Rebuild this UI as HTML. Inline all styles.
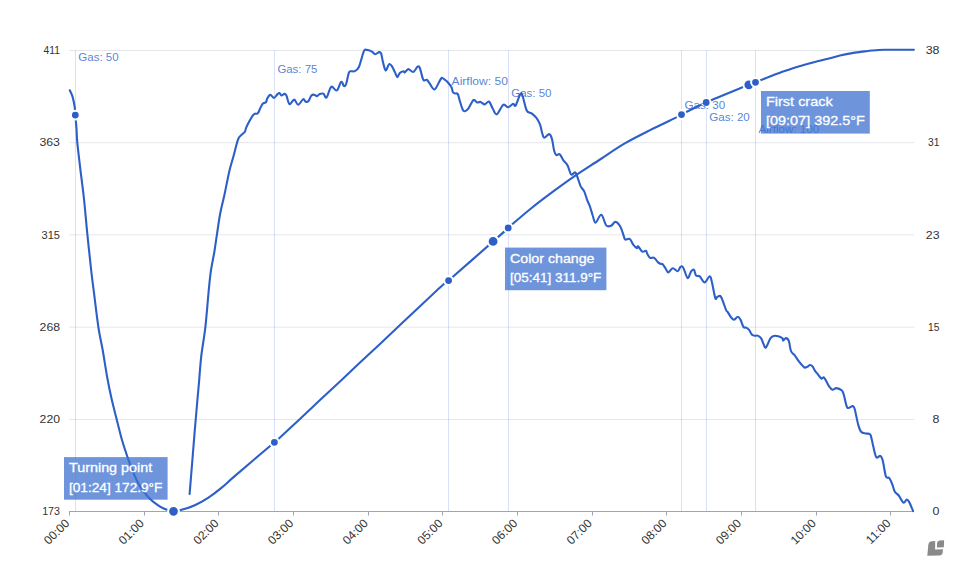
<!DOCTYPE html><html><head><meta charset="utf-8"><style>html,body{margin:0;padding:0;background:#fff;width:980px;height:564px;overflow:hidden}svg{display:block;font-family:"Liberation Sans",sans-serif}</style></head><body>
<svg width="980" height="564" viewBox="0 0 980 564">
<line x1="69" y1="50.5" x2="914" y2="50.5" stroke="#e3e8eb" stroke-width="1"/>
<line x1="69" y1="142.7" x2="914" y2="142.7" stroke="#e3e8eb" stroke-width="1"/>
<line x1="69" y1="234.8" x2="914" y2="234.8" stroke="#e3e8eb" stroke-width="1"/>
<line x1="69" y1="327.2" x2="914" y2="327.2" stroke="#e3e8eb" stroke-width="1"/>
<line x1="69" y1="419.5" x2="914" y2="419.5" stroke="#e3e8eb" stroke-width="1"/>
<line x1="69" y1="511.5" x2="914" y2="511.5" stroke="#97a6b8" stroke-width="1"/>
<line x1="69.5" y1="511.5" x2="69.5" y2="515.5" stroke="#97a6b8" stroke-width="1"/>
<line x1="144.5" y1="511.5" x2="144.5" y2="515.5" stroke="#97a6b8" stroke-width="1"/>
<line x1="218.5" y1="511.5" x2="218.5" y2="515.5" stroke="#97a6b8" stroke-width="1"/>
<line x1="293.5" y1="511.5" x2="293.5" y2="515.5" stroke="#97a6b8" stroke-width="1"/>
<line x1="368.5" y1="511.5" x2="368.5" y2="515.5" stroke="#97a6b8" stroke-width="1"/>
<line x1="442.5" y1="511.5" x2="442.5" y2="515.5" stroke="#97a6b8" stroke-width="1"/>
<line x1="517.5" y1="511.5" x2="517.5" y2="515.5" stroke="#97a6b8" stroke-width="1"/>
<line x1="592.5" y1="511.5" x2="592.5" y2="515.5" stroke="#97a6b8" stroke-width="1"/>
<line x1="666.5" y1="511.5" x2="666.5" y2="515.5" stroke="#97a6b8" stroke-width="1"/>
<line x1="741.5" y1="511.5" x2="741.5" y2="515.5" stroke="#97a6b8" stroke-width="1"/>
<line x1="816.5" y1="511.5" x2="816.5" y2="515.5" stroke="#97a6b8" stroke-width="1"/>
<line x1="890.5" y1="511.5" x2="890.5" y2="515.5" stroke="#97a6b8" stroke-width="1"/>
<line x1="75.5" y1="50" x2="75.5" y2="511" stroke="rgba(40,90,210,0.18)" stroke-width="1"/>
<line x1="274.5" y1="50" x2="274.5" y2="511" stroke="rgba(40,90,210,0.18)" stroke-width="1"/>
<line x1="448.5" y1="50" x2="448.5" y2="511" stroke="rgba(40,90,210,0.18)" stroke-width="1"/>
<line x1="508.5" y1="50" x2="508.5" y2="511" stroke="rgba(40,90,210,0.18)" stroke-width="1"/>
<line x1="681.5" y1="50" x2="681.5" y2="511" stroke="rgba(40,90,210,0.18)" stroke-width="1"/>
<line x1="706.5" y1="50" x2="706.5" y2="511" stroke="rgba(40,90,210,0.18)" stroke-width="1"/>
<line x1="755.5" y1="50" x2="755.5" y2="511" stroke="rgba(40,90,210,0.18)" stroke-width="1"/>
<path d="M69.8,90.3 C70.3,91.4 71.8,94.0 72.6,96.9 C73.4,99.8 74.3,104.4 74.8,107.5 C75.2,110.6 75.0,111.8 75.3,115.3 C75.6,118.8 76.2,124.3 76.5,128.8 C76.8,133.4 76.7,136.2 77.3,142.6 C77.9,149.0 79.0,157.5 80.1,167.1 C81.2,176.7 82.9,188.7 84.1,200.0 C85.3,211.3 86.2,223.1 87.4,234.7 C88.6,246.3 89.9,258.7 91.1,269.5 C92.3,280.3 93.6,289.6 94.8,299.3 C96.0,309.0 97.2,319.1 98.5,327.8 C99.8,336.5 101.5,343.1 102.9,351.3 C104.3,359.5 105.7,369.0 107.1,376.8 C108.5,384.6 109.8,391.0 111.4,398.1 C113.0,405.2 114.9,412.4 116.7,419.4 C118.5,426.4 120.2,433.7 122.0,440.0 C123.8,446.3 125.7,451.8 127.6,457.3 C129.5,462.9 131.5,468.4 133.6,473.3 C135.7,478.2 137.6,482.4 140.3,486.6 C143.0,490.8 146.5,495.3 149.6,498.5 C152.7,501.7 156.0,504.0 158.9,505.9 C161.8,507.8 164.5,508.9 166.9,509.8 C169.3,510.7 171.1,511.3 173.5,511.3 C175.9,511.3 177.9,510.8 181.5,509.8 C185.1,508.8 190.4,507.2 194.8,505.2 C199.2,503.2 203.7,500.8 208.1,497.9 C212.5,495.0 216.9,491.6 221.4,487.9 C225.9,484.2 226.2,483.5 235.0,475.9 C243.8,468.3 267.0,448.6 274.5,442.2 C282.0,435.8 275.8,441.3 280.0,437.4 C284.2,433.5 293.3,425.1 300.0,418.9 C306.7,412.7 313.3,406.4 320.0,400.1 C326.7,393.9 333.3,387.6 340.0,381.4 C346.7,375.1 353.3,368.9 360.0,362.6 C366.7,356.4 373.3,350.1 380.0,343.9 C386.7,337.6 393.3,331.4 400.0,325.1 C406.7,318.8 412.8,313.1 420.0,306.3 C427.2,299.5 438.5,288.8 443.3,284.5 C448.1,280.2 440.3,287.7 448.6,280.5 C456.9,273.3 483.2,250.2 493.2,241.4 C503.1,232.7 505.0,230.9 508.3,228.0 C511.6,225.1 509.0,227.1 512.8,223.8 C516.6,220.5 524.7,213.5 531.3,208.2 C537.9,202.9 545.3,197.3 552.6,191.9 C559.9,186.5 567.4,181.0 575.3,175.6 C583.2,170.2 591.8,164.9 600.0,159.5 C608.2,154.1 616.5,148.2 624.8,143.4 C633.1,138.6 641.3,134.6 649.6,130.4 C657.9,126.2 669.1,121.0 674.4,118.4 C679.7,115.8 676.0,117.2 681.3,114.6 C686.6,111.9 694.9,107.5 706.1,102.5 C717.4,97.5 740.6,88.2 748.8,84.8 C757.0,81.4 752.0,83.7 755.5,82.3 C759.0,80.9 765.9,78.0 770.0,76.4 C774.1,74.8 776.3,74.0 780.0,72.7 C783.7,71.4 788.1,69.7 792.2,68.4 C796.3,67.1 800.4,65.8 804.5,64.7 C808.6,63.6 812.6,62.6 816.7,61.6 C820.8,60.6 825.1,59.6 829.0,58.6 C832.9,57.6 836.1,56.5 840.0,55.6 C843.9,54.7 848.1,53.8 852.2,53.1 C856.3,52.4 860.4,51.9 864.5,51.4 C868.6,50.9 873.3,50.5 876.7,50.2 C880.1,49.9 878.7,49.9 884.9,49.8 C891.1,49.7 909.1,49.8 913.9,49.8" fill="none" stroke="#2d5fc8" stroke-width="2.1" stroke-linejoin="round" stroke-linecap="round"/>
<path d="M189.6,494.0 C190.0,488.9 191.3,473.5 192.1,463.6 C192.9,453.8 193.5,445.5 194.4,434.9 C195.3,424.3 196.6,409.1 197.4,400.0 C198.2,390.9 198.6,387.2 199.2,380.0 C199.8,372.8 200.2,365.5 201.2,356.6 C202.2,347.7 204.2,337.6 205.4,326.8 C206.6,316.0 207.7,301.3 208.6,292.0 C209.5,282.7 209.9,277.4 210.9,270.8 C211.9,264.2 213.3,258.1 214.3,252.2 C215.3,246.3 215.8,241.8 216.8,235.4 C217.8,229.0 218.9,220.2 220.2,213.5 C221.5,206.8 222.8,202.2 224.4,195.0 C226.0,187.8 227.9,177.0 229.5,170.4 C231.1,163.8 232.3,160.6 233.7,155.5 C235.1,150.4 236.7,143.1 238.0,139.6 C239.3,136.1 240.7,135.9 241.8,134.6 C243.0,133.3 244.2,132.9 244.9,131.8 C245.6,130.7 245.4,129.5 246.1,127.8 C246.8,126.1 248.1,123.7 249.2,121.6 C250.3,119.5 251.9,116.6 252.9,115.3 C253.9,114.0 254.6,114.0 255.4,113.7 C256.2,113.4 257.1,114.2 257.9,113.2 C258.7,112.2 259.6,109.5 260.4,107.9 C261.2,106.3 262.0,104.5 262.9,103.6 C263.8,102.7 265.3,103.1 266.0,102.3 C266.7,101.5 266.5,99.8 267.2,98.6 C267.9,97.4 269.2,95.0 270.3,94.9 C271.4,94.8 272.9,98.0 274.0,98.0 C275.1,98.0 276.2,95.4 277.1,94.6 C278.0,93.8 278.7,92.8 279.4,93.0 C280.1,93.2 280.7,95.3 281.5,95.5 C282.3,95.7 283.5,93.9 284.3,93.9 C285.1,93.9 285.5,93.8 286.4,95.5 C287.3,97.2 288.2,103.5 289.5,104.2 C290.8,104.9 292.8,99.5 294.2,99.6 C295.6,99.7 296.7,104.9 298.2,104.8 C299.7,104.7 301.9,99.7 303.2,99.2 C304.4,98.7 304.8,101.4 305.7,101.7 C306.6,102.0 307.6,102.0 308.5,101.0 C309.4,100.0 310.4,96.8 311.3,95.7 C312.2,94.7 313.2,94.6 314.1,94.7 C315.1,94.8 316.1,96.2 317.0,96.1 C317.9,96.0 318.7,94.4 319.8,94.0 C320.9,93.6 322.3,93.1 323.4,93.7 C324.5,94.3 325.3,98.7 326.6,97.5 C327.9,96.3 329.5,88.0 331.2,86.8 C332.9,85.6 335.1,91.2 336.8,90.4 C338.5,89.6 339.9,82.6 341.1,81.9 C342.3,81.2 343.2,85.8 344.0,86.1 C344.8,86.4 345.3,86.2 346.1,84.0 C346.9,81.8 348.1,74.8 348.9,72.7 C349.7,70.6 350.1,71.5 351.0,71.2 C351.9,71.0 353.3,71.9 354.6,71.2 C355.9,70.5 357.4,70.3 358.9,67.0 C360.4,63.7 362.5,54.2 363.8,51.4 C365.1,48.5 365.4,49.9 366.7,49.9 C368.0,49.9 370.2,50.7 371.6,51.4 C373.0,52.1 373.9,54.1 375.2,54.2 C376.5,54.3 378.2,52.2 379.2,52.1 C380.2,52.0 380.5,52.0 381.1,53.5 C381.7,55.0 382.2,58.7 382.8,61.3 C383.4,63.9 384.3,67.6 384.9,69.1 C385.5,70.6 385.6,70.9 386.3,70.1 C387.0,69.3 388.2,64.7 389.2,64.1 C390.1,63.5 391.1,65.0 392.0,66.3 C392.9,67.6 393.9,70.1 394.8,71.9 C395.7,73.7 396.5,77.0 397.3,77.2 C398.1,77.4 398.8,73.9 399.8,72.9 C400.8,71.9 402.6,71.3 403.4,71.2 C404.2,71.1 404.0,72.8 404.8,72.4 C405.6,72.1 406.9,69.2 408.3,69.1 C409.7,69.0 411.8,72.3 413.3,71.9 C414.9,71.5 416.5,67.4 417.6,66.7 C418.7,66.0 418.9,65.9 419.7,67.7 C420.5,69.5 421.8,75.5 422.5,77.6 C423.2,79.7 423.2,80.1 423.9,80.5 C424.6,80.9 425.9,79.3 426.8,79.8 C427.8,80.3 428.3,81.7 429.6,83.3 C430.9,84.9 432.8,90.0 434.6,89.4 C436.4,88.8 438.9,81.7 440.3,79.8 C441.7,77.9 441.3,77.2 443.1,78.3 C444.9,79.3 449.3,83.8 450.9,86.1 C452.5,88.4 452.1,90.8 452.8,92.0 C453.5,93.2 454.2,93.1 455.0,93.4 C455.8,93.8 457.0,92.8 457.8,94.1 C458.6,95.4 459.1,98.6 459.9,101.2 C460.7,103.8 462.0,108.0 462.8,109.7 C463.6,111.4 463.9,111.4 464.9,111.2 C465.8,111.0 467.1,110.2 468.5,108.3 C469.9,106.4 472.0,101.1 473.4,100.1 C474.8,99.1 475.8,102.1 477.0,102.4 C478.2,102.7 479.2,101.6 480.5,101.9 C481.8,102.2 483.4,104.5 484.8,104.4 C486.2,104.3 487.7,100.8 489.0,101.5 C490.3,102.2 491.3,106.2 492.6,108.3 C493.9,110.4 495.0,114.9 496.8,114.3 C498.6,113.7 501.3,106.0 503.2,104.8 C505.1,103.6 506.5,107.4 508.2,107.2 C509.9,107.0 512.0,104.1 513.2,103.8 C514.4,103.5 514.4,107.1 515.6,105.5 C516.8,103.9 519.2,95.8 520.3,94.1 C521.4,92.4 521.3,92.6 522.4,95.3 C523.5,98.0 525.2,107.5 526.7,110.5 C528.2,113.5 530.0,112.1 531.6,113.3 C533.2,114.5 535.0,116.0 536.4,117.8 C537.8,119.6 538.9,121.7 539.9,124.2 C540.9,126.7 541.4,130.4 542.1,132.7 C542.8,134.9 543.0,137.5 544.2,137.7 C545.4,137.9 547.9,133.9 549.2,134.1 C550.5,134.3 551.2,136.4 552.0,139.1 C552.8,141.8 553.4,147.8 554.1,150.5 C554.8,153.2 555.3,154.5 556.3,155.1 C557.2,155.7 558.6,153.4 559.8,154.3 C561.0,155.2 562.1,158.6 563.4,160.4 C564.7,162.2 566.3,163.0 567.6,165.4 C568.9,167.8 569.9,173.4 571.2,174.6 C572.5,175.8 574.2,171.7 575.4,172.5 C576.6,173.3 577.4,177.3 578.3,179.6 C579.2,181.9 579.7,184.4 580.7,186.4 C581.7,188.4 583.1,189.2 584.2,191.4 C585.3,193.7 586.2,197.4 587.1,199.9 C588.0,202.4 589.0,203.7 589.9,206.3 C590.8,208.9 591.8,212.8 592.7,215.5 C593.7,218.2 594.2,222.7 595.6,222.6 C597.0,222.5 599.5,214.3 601.3,214.8 C603.1,215.3 604.6,223.6 606.2,225.4 C607.9,227.2 609.7,226.3 611.2,225.7 C612.8,225.1 614.0,221.7 615.5,221.9 C617.0,222.1 619.0,224.3 620.4,226.8 C621.8,229.3 623.2,234.7 624.0,236.8 C624.8,238.9 624.4,239.2 625.4,239.6 C626.4,239.9 628.4,238.1 629.7,238.9 C631.0,239.7 632.0,243.1 633.2,244.6 C634.4,246.1 636.0,247.8 636.8,248.1 C637.6,248.4 637.3,245.8 638.2,246.4 C639.1,247.0 641.1,251.0 642.4,251.7 C643.7,252.4 645.2,250.4 646.0,250.7 C646.8,251.0 646.4,252.3 647.1,253.5 C647.8,254.7 648.8,257.1 650.0,257.8 C651.2,258.5 652.9,257.1 654.2,257.8 C655.5,258.5 656.7,261.1 657.8,262.1 C658.9,263.1 659.8,263.5 660.6,263.9 C661.4,264.2 661.9,263.4 662.7,264.2 C663.5,265.0 664.7,267.1 665.6,268.5 C666.5,269.9 667.2,272.4 668.4,272.4 C669.6,272.3 671.2,268.4 672.7,268.2 C674.2,268.0 676.4,271.5 677.7,271.3 C679.0,271.1 679.6,267.4 680.5,266.8 C681.4,266.2 682.1,265.8 683.3,267.7 C684.5,269.6 686.3,277.5 687.6,278.1 C688.9,278.7 690.0,272.7 691.1,271.3 C692.2,269.9 693.2,269.2 694.0,269.9 C694.8,270.6 695.1,274.5 696.1,275.6 C697.1,276.7 698.3,275.2 699.7,276.3 C701.1,277.4 703.0,282.4 704.6,282.4 C706.2,282.4 708.4,276.5 709.6,276.3 C710.8,276.1 710.8,277.6 711.7,281.2 C712.7,284.8 714.3,295.4 715.3,298.0 C716.2,300.6 716.4,297.0 717.4,296.8 C718.4,296.6 719.6,294.7 721.0,296.8 C722.4,298.9 724.8,307.1 725.9,309.6 C727.0,312.2 726.9,310.7 727.8,312.1 C728.7,313.5 730.3,316.5 731.4,317.8 C732.5,319.1 733.1,319.9 734.2,319.7 C735.3,319.5 736.7,316.8 737.8,316.8 C738.9,316.8 739.6,318.2 740.6,319.9 C741.6,321.6 742.5,325.7 743.5,327.0 C744.5,328.3 745.4,327.2 746.3,327.7 C747.2,328.2 748.1,328.7 749.1,329.9 C750.1,331.1 750.9,333.8 752.0,334.8 C753.1,335.8 754.5,335.7 755.5,335.8 C756.5,335.9 756.8,335.2 757.7,335.6 C758.7,336.0 760.3,337.1 761.2,338.4 C762.1,339.7 762.5,341.9 763.3,343.4 C764.1,344.9 764.7,348.4 765.9,347.6 C767.1,346.8 769.0,340.3 770.4,338.4 C771.8,336.5 772.7,336.4 774.0,336.0 C775.3,335.6 776.8,335.9 778.2,336.3 C779.6,336.7 781.7,337.7 782.5,338.4 C783.3,339.1 782.6,340.6 783.2,340.5 C783.8,340.4 785.0,338.0 786.0,338.1 C787.0,338.2 788.1,339.0 788.9,341.2 C789.7,343.4 790.0,348.9 791.0,351.2 C792.0,353.5 793.4,353.6 794.6,355.1 C795.8,356.6 796.9,358.8 798.1,360.4 C799.3,362.0 800.6,363.5 801.7,364.7 C802.8,365.9 803.6,367.1 804.5,367.5 C805.4,367.9 806.4,367.2 807.3,366.8 C808.2,366.4 809.1,365.0 810.0,365.0 C810.9,365.0 812.0,365.9 812.8,366.8 C813.6,367.7 814.1,369.4 814.9,370.6 C815.7,371.8 816.7,372.9 817.8,374.2 C818.9,375.5 820.2,377.9 821.3,378.5 C822.4,379.1 822.9,376.4 824.2,377.7 C825.5,379.0 827.7,384.3 829.1,386.3 C830.5,388.3 831.5,389.5 832.7,389.8 C833.9,390.1 834.7,388.0 836.2,388.1 C837.7,388.2 840.6,389.3 841.9,390.5 C843.2,391.7 843.1,392.6 844.0,395.5 C844.9,398.4 845.9,405.8 847.3,407.6 C848.7,409.4 851.4,405.9 852.6,406.1 C853.8,406.3 853.8,405.9 854.7,409.0 C855.6,412.1 857.1,420.8 858.2,424.6 C859.3,428.4 859.8,430.2 861.1,431.7 C862.4,433.2 864.7,433.1 866.0,433.5 C867.3,433.9 868.1,433.4 868.9,433.8 C869.7,434.2 870.1,433.6 870.8,435.6 C871.5,437.6 872.3,442.4 873.2,446.0 C874.1,449.6 875.1,455.5 876.3,457.1 C877.5,458.8 879.2,455.4 880.3,455.9 C881.4,456.4 881.8,456.9 882.7,460.3 C883.6,463.7 884.8,473.4 885.9,476.3 C887.0,479.2 888.0,476.6 889.1,477.9 C890.2,479.2 891.4,482.0 892.3,484.3 C893.2,486.6 893.6,489.6 894.7,491.5 C895.8,493.4 897.2,493.6 898.7,495.5 C900.2,497.4 902.2,502.0 903.5,502.7 C904.8,503.4 905.8,499.6 906.7,499.5 C907.6,499.4 908.0,500.0 909.1,501.9 C910.2,503.8 912.4,509.6 913.1,511.1" fill="none" stroke="#2d5fc8" stroke-width="2.1" stroke-linejoin="round" stroke-linecap="round"/>
<circle cx="173.5" cy="511.3" r="5.4" fill="#2d5fc8" stroke="#fff" stroke-width="2"/>
<circle cx="493.1" cy="241.4" r="5.4" fill="#2d5fc8" stroke="#fff" stroke-width="2"/>
<circle cx="748.8" cy="84.8" r="5.4" fill="#2d5fc8" stroke="#fff" stroke-width="2"/>
<circle cx="75.3" cy="115.1" r="4.4" fill="#2d5fc8" stroke="#fff" stroke-width="2"/>
<circle cx="274.4" cy="442.3" r="4.4" fill="#2d5fc8" stroke="#fff" stroke-width="2"/>
<circle cx="448.6" cy="280.6" r="4.4" fill="#2d5fc8" stroke="#fff" stroke-width="2"/>
<circle cx="508.2" cy="227.9" r="4.4" fill="#2d5fc8" stroke="#fff" stroke-width="2"/>
<circle cx="681.5" cy="114.6" r="4.4" fill="#2d5fc8" stroke="#fff" stroke-width="2"/>
<circle cx="706.2" cy="102.5" r="4.4" fill="#2d5fc8" stroke="#fff" stroke-width="2"/>
<circle cx="755.5" cy="82.3" r="4.4" fill="#2d5fc8" stroke="#fff" stroke-width="2"/>
<text x="78.3" y="61" font-size="11" fill="rgba(40,92,200,0.78)" textLength="40.3" lengthAdjust="spacingAndGlyphs">Gas: 50</text>
<text x="277.4" y="73" font-size="11" fill="rgba(40,92,200,0.78)" textLength="40.0" lengthAdjust="spacingAndGlyphs">Gas: 75</text>
<text x="451.6" y="85" font-size="11" fill="rgba(40,92,200,0.78)" textLength="56.3" lengthAdjust="spacingAndGlyphs">Airflow: 50</text>
<text x="511.2" y="97" font-size="11" fill="rgba(40,92,200,0.78)" textLength="40.3" lengthAdjust="spacingAndGlyphs">Gas: 50</text>
<text x="684.5" y="109" font-size="11" fill="rgba(40,92,200,0.78)" textLength="40.6" lengthAdjust="spacingAndGlyphs">Gas: 30</text>
<text x="709.2" y="121" font-size="11" fill="rgba(40,92,200,0.78)" textLength="40.6" lengthAdjust="spacingAndGlyphs">Gas: 20</text>
<text x="758.5" y="133" font-size="11" fill="rgba(40,92,200,0.78)" textLength="60.6" lengthAdjust="spacingAndGlyphs">Airflow: 100</text>
<rect x="64" y="457.1" width="103.6" height="42.6" fill="rgba(60,112,208,0.74)"/>
<rect x="505" y="247.6" width="101.4" height="42.6" fill="rgba(60,112,208,0.74)"/>
<rect x="761" y="91" width="108.8" height="42.6" fill="rgba(60,112,208,0.74)"/>
<text x="69" y="472.4" font-size="13.5" fill="#fff" stroke="#fff" stroke-width="0.3" textLength="83.2" lengthAdjust="spacingAndGlyphs">Turning point</text>
<text x="69" y="491.5" font-size="13.5" fill="#fff" stroke="#fff" stroke-width="0.3" textLength="93.4" lengthAdjust="spacingAndGlyphs">[01:24] 172.9°F</text>
<text x="510" y="262.9" font-size="13.5" fill="#fff" stroke="#fff" stroke-width="0.3" textLength="84.5" lengthAdjust="spacingAndGlyphs">Color change</text>
<text x="510" y="282.0" font-size="13.5" fill="#fff" stroke="#fff" stroke-width="0.3" textLength="91.3" lengthAdjust="spacingAndGlyphs">[05:41] 311.9°F</text>
<text x="766" y="106.3" font-size="13.5" fill="#fff" stroke="#fff" stroke-width="0.3" textLength="66.7" lengthAdjust="spacingAndGlyphs">First crack</text>
<text x="766" y="125.4" font-size="13.5" fill="#fff" stroke="#fff" stroke-width="0.3" textLength="98.9" lengthAdjust="spacingAndGlyphs">[09:07] 392.5°F</text>
<text x="60" y="54.2" font-size="11.3" fill="#333" text-anchor="end" textLength="16.4" lengthAdjust="spacingAndGlyphs">411</text>
<text x="60" y="146.4" font-size="11.3" fill="#333" text-anchor="end" textLength="20.6" lengthAdjust="spacingAndGlyphs">363</text>
<text x="60" y="238.6" font-size="11.3" fill="#333" text-anchor="end" textLength="18.4" lengthAdjust="spacingAndGlyphs">315</text>
<text x="60" y="330.8" font-size="11.3" fill="#333" text-anchor="end" textLength="20.4" lengthAdjust="spacingAndGlyphs">268</text>
<text x="60" y="423.0" font-size="11.3" fill="#333" text-anchor="end" textLength="20.4" lengthAdjust="spacingAndGlyphs">220</text>
<text x="60" y="515.2" font-size="11.3" fill="#333" text-anchor="end" textLength="17.8" lengthAdjust="spacingAndGlyphs">173</text>
<text x="939.5" y="54.2" font-size="11.3" fill="#333" text-anchor="end" textLength="13.8" lengthAdjust="spacingAndGlyphs">38</text>
<text x="939.5" y="146.4" font-size="11.3" fill="#333" text-anchor="end" textLength="11.4" lengthAdjust="spacingAndGlyphs">31</text>
<text x="939.5" y="238.6" font-size="11.3" fill="#333" text-anchor="end" textLength="13.7" lengthAdjust="spacingAndGlyphs">23</text>
<text x="939.5" y="330.8" font-size="11.3" fill="#333" text-anchor="end" textLength="11.4" lengthAdjust="spacingAndGlyphs">15</text>
<text x="939.5" y="423.0" font-size="11.3" fill="#333" text-anchor="end" textLength="6.9" lengthAdjust="spacingAndGlyphs">8</text>
<text x="939.5" y="515.2" font-size="11.3" fill="#333" text-anchor="end" textLength="6.9" lengthAdjust="spacingAndGlyphs">0</text>
<text x="70.5" y="519.5" font-size="12" fill="#333" text-anchor="end" transform="translate(-0.4 4.6) rotate(-45 70.5 519.5)">00:00</text>
<text x="145.2" y="519.5" font-size="12" fill="#333" text-anchor="end" transform="translate(-0.4 4.6) rotate(-45 145.2 519.5)">01:00</text>
<text x="219.8" y="519.5" font-size="12" fill="#333" text-anchor="end" transform="translate(-0.4 4.6) rotate(-45 219.8 519.5)">02:00</text>
<text x="294.5" y="519.5" font-size="12" fill="#333" text-anchor="end" transform="translate(-0.4 4.6) rotate(-45 294.5 519.5)">03:00</text>
<text x="369.1" y="519.5" font-size="12" fill="#333" text-anchor="end" transform="translate(-0.4 4.6) rotate(-45 369.1 519.5)">04:00</text>
<text x="443.8" y="519.5" font-size="12" fill="#333" text-anchor="end" transform="translate(-0.4 4.6) rotate(-45 443.8 519.5)">05:00</text>
<text x="518.5" y="519.5" font-size="12" fill="#333" text-anchor="end" transform="translate(-0.4 4.6) rotate(-45 518.5 519.5)">06:00</text>
<text x="593.1" y="519.5" font-size="12" fill="#333" text-anchor="end" transform="translate(-0.4 4.6) rotate(-45 593.1 519.5)">07:00</text>
<text x="667.8" y="519.5" font-size="12" fill="#333" text-anchor="end" transform="translate(-0.4 4.6) rotate(-45 667.8 519.5)">08:00</text>
<text x="742.4" y="519.5" font-size="12" fill="#333" text-anchor="end" transform="translate(-0.4 4.6) rotate(-45 742.4 519.5)">09:00</text>
<text x="817.1" y="519.5" font-size="12" fill="#333" text-anchor="end" transform="translate(-0.4 4.6) rotate(-45 817.1 519.5)">10:00</text>
<text x="891.8" y="519.5" font-size="12" fill="#333" text-anchor="end" transform="translate(-0.4 4.6) rotate(-45 891.8 519.5)">11:00</text>
<path d="M928.4,544.2 Q928.9,541.5 931.6,541.3 L935.2,541.1 L935.1,549.4 L942.9,549.3 L942.7,552.6 Q942.2,555.4 939.4,555.5 L927.3,555.7 Z M937.1,543 Q937.4,540.8 939.6,540.6 L944.1,540.3 L943.9,547.3 L936.9,547.5 Z" fill="#8a8a8a"/>
</svg></body></html>
